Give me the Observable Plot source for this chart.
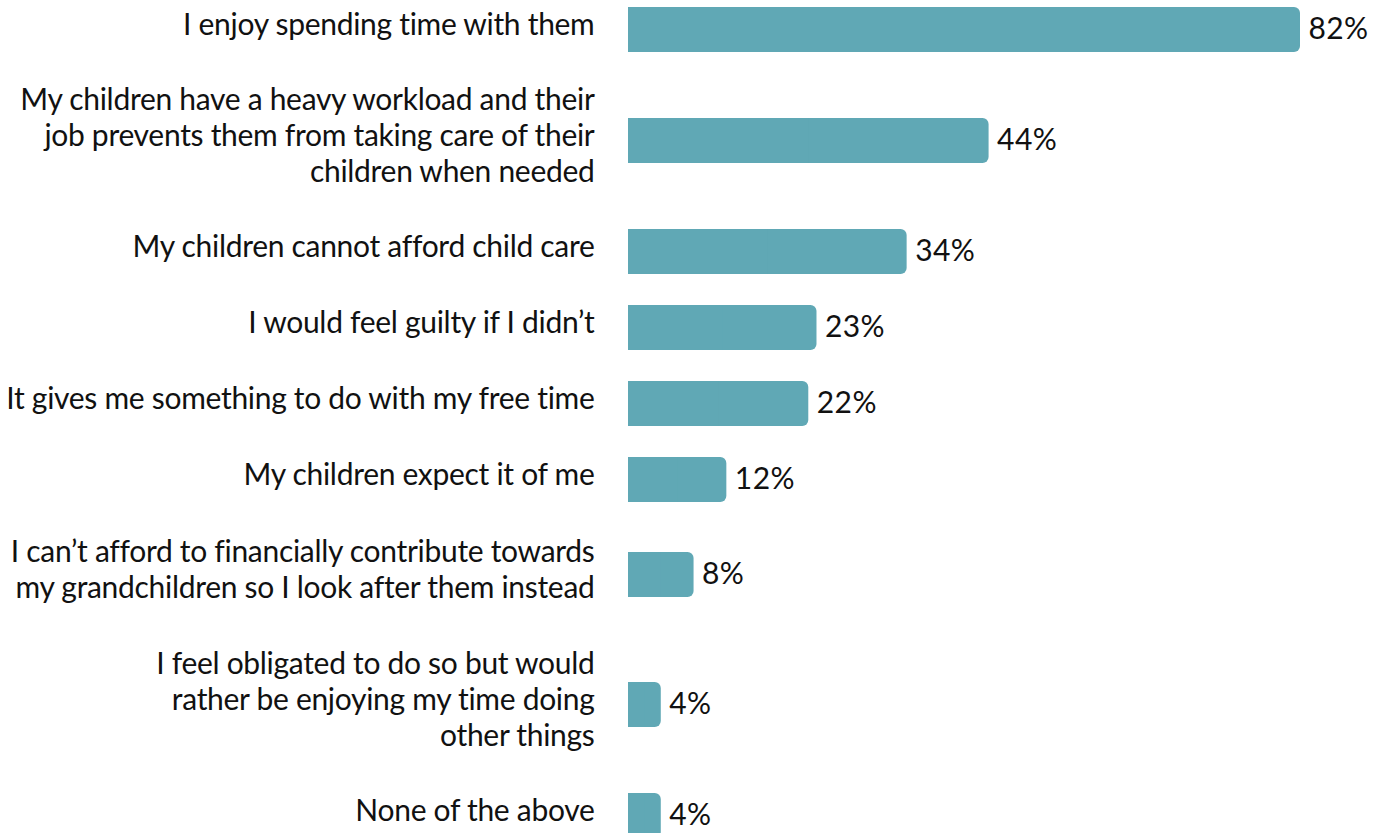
<!DOCTYPE html>
<html>
<head>
<meta charset="utf-8">
<script src="https://cdn.jsdelivr.net/npm/d3@7"></script>
<script src="https://cdn.jsdelivr.net/npm/@observablehq/plot@0.6"></script>
<style>
  html, body { margin: 0; padding: 0; background: #fff; }
  #chart svg { display: block; }
  #chart .labels text { letter-spacing: -0.3px; }
  #chart .values text { letter-spacing: 0.4px; }
</style>
</head>
<body>
<div id="chart"></div>
<script>
const categories = [
  "I enjoy spending time with them",
  "My children have a heavy workload and their\njob prevents them from taking care of their\nchildren when needed",
  "My children cannot afford child care",
  "I would feel guilty if I didn\u2019t",
  "It gives me something to do with my free time",
  "My children expect it of me",
  "I can\u2019t afford to financially contribute towards\nmy grandchildren so I look after them instead",
  "I feel obligated to do so but would\nrather be enjoying my time doing\nother things",
  "None of the above"
];
const values = [82, 44, 34, 23, 22, 12, 8, 4, 4];

// Row layout derived from the number of label lines
const rowHeightByLines = [0, 76, 114, 146];
const topOffset = -9;
const heights = categories.map(c => rowHeightByLines[c.split("\n").length]);
const centers = [];
heights.forEach((h, i) => {
  centers.push(i === 0 ? topOffset + h / 2 : centers[i - 1] + (heights[i - 1] + h) / 2);
});
const barHalf = 22.5;
const data = categories.map((c, i) => ({
  label: c,
  value: values[i],
  y: centers[i],
  y1: Math.round(centers[i] - barHalf),
  y2: Math.round(centers[i] + barHalf)
}));
const color = "#60a8b5";

const plot = Plot.plot({
  width: 1386,
  height: 833,
  marginLeft: 628,
  marginRight: 86,
  marginTop: 0,
  marginBottom: 0,
  style: {fontFamily: "Lato, sans-serif", background: "#fff", color: "#111"},
  x: {domain: [0, 82], axis: null},
  y: {domain: [0, 833], range: [0, 833], axis: null},
  marks: [
    Plot.rect(data, {x1: 0, x2: "value", y1: "y1", y2: "y2", fill: color, rx: 6}),
    Plot.rect(data, {x1: 0, x2: d => d.value / 2, y1: "y1", y2: "y2", fill: color}),
    Plot.text(data, {x: 0, y: "y", text: "label", textAnchor: "end", dx: -34, dy: -6, fontSize: 30, lineHeight: 1.2, fill: "#111", className: "labels"}),
    Plot.text(data, {x: "value", y: "y", text: d => d.value + "%", textAnchor: "start", dx: 8, dy: 0, fontSize: 30, fill: "#111", className: "values"})
  ]
});
document.getElementById("chart").appendChild(plot);
</script>
</body>
</html>
